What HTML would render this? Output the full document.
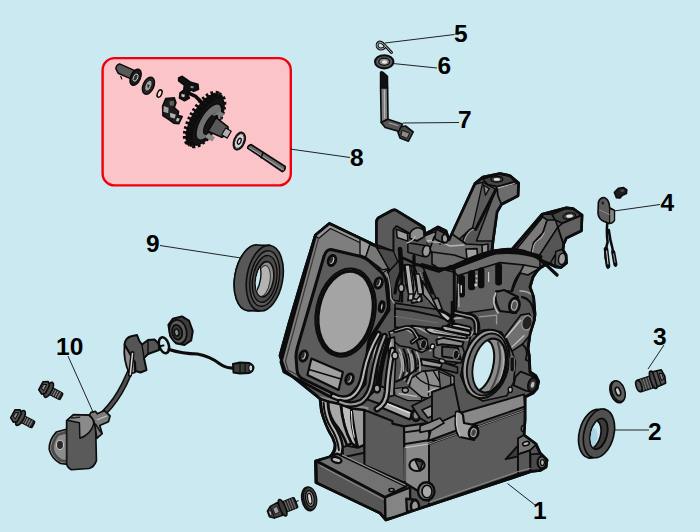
<!DOCTYPE html>
<html><head><meta charset="utf-8">
<style>
html,body{margin:0;padding:0;background:#cae9f1;}
body{width:700px;height:532px;overflow:hidden;}
svg{display:block;}
text{font-family:"Liberation Sans",sans-serif;font-weight:bold;font-size:24.5px;fill:#000;}
</style></head><body>
<svg width="700" height="532" viewBox="0 0 700 532">
<rect width="700" height="532" fill="#cae9f1"/>
<!-- pink box -->
<rect x="102.600" y="58.100" width="188.200" height="127.300" rx="12" ry="12" fill="#fbc4c9" stroke="#f0000c" stroke-width="2.400"/>
<!-- LEADERS -->
<g stroke="#222" stroke-width="1" fill="none">
<line x1="454.500" y1="34.500" x2="385" y2="43"/>
<line x1="437" y1="68" x2="393" y2="63.500"/>
<line x1="459" y1="122.500" x2="403" y2="123"/>
<line x1="290" y1="149" x2="350" y2="157.500"/>
<line x1="660" y1="204.500" x2="614" y2="211"/>
<line x1="160" y1="245.500" x2="241" y2="258"/>
<line x1="68" y1="356" x2="93" y2="412"/>
<line x1="664" y1="345" x2="648" y2="369"/>
<line x1="649" y1="430" x2="615" y2="430"/>
<line x1="535" y1="505" x2="507.500" y2="483.500"/>
</g>
<!-- LABELS -->
<g>
<text x="454" y="42">5</text>
<text x="437.500" y="74">6</text>
<text x="458" y="128">7</text>
<text x="350" y="166">8</text>
<text x="660.500" y="211">4</text>
<text x="146" y="251.500">9</text>
<text x="56" y="355">10</text>
<text x="653" y="345">3</text>
<text x="648" y="440">2</text>
<text x="533" y="518.500">1</text>
</g>
<g id="engine" stroke-linejoin="round" stroke-linecap="round">
<!-- silhouette -->
<path id="sil" d="M329.500,223.500 L371,243.500 L376.500,246 L376.500,222 Q376.500,218.500 380,217 L392,210.500 Q394.500,209.300 397,210.800 L424,227.500 L425,234 L431,231 L438,227 L446,231 L449,240 L475,183.600 L483,177 L500,173.600 L510,175.700 L518.600,183 L518,195.700 L501.500,204.300 L497,212 L493,241 L492,251 L512,249.300 L542,214.300 L566.400,207.900 L573,208.600 L582,215 L581.400,230.700 L566.400,238 L563.600,244.300 L563,250 L566,255 L566.500,263 L561,267.500 L556,267 L548,263 L540,268 L537,271 L533,277 L530,287 L533.600,297 L535,314 L534.300,320 L530,334 L528,348.600 L529.300,356 L530,372 L535.700,375.700 L538.600,381.400 L537,388.600 L533,393 L525,397 L525,420 L524,435 L536,444 L540,453 L547,460 L546,467 L540,470.500 L531,471.500 L515,477 L415,510 L386,520 L380,513 L316,482.500 L315.500,461 L329.300,457 Q335.500,452 335,444 Q333,437 330,433 Q325,424 321.500,411.500 L320,398.600 L285,370.500 L280,355.500 L289,323 L304.300,271.500 L315.500,235 Z" fill="#565656" stroke="#0c0c0c" stroke-width="2.7"/>
<!-- flange -->
<path d="M329,224 L371.500,243.500 L388.500,269 L389,310 L369,341 L365,384 L355,396 L339,401.500 L284,372 L281,362 L315.500,235.500 Z" fill="#7e7e7e" stroke="#0c0c0c" stroke-width="2.97"/>
<path d="M329,224 L371.500,243.500 L368,246.500 L330.500,228.500 L318.500,238.500 L315.500,235.500 Z" fill="#969696" stroke="#0c0c0c" stroke-width="1.215"/>
<path d="M318.500,238.500 L285.500,361 L288,370 L339,397.500" fill="none" stroke="#3a3a3a" stroke-width="1.215"/>
<!-- chamfer -->
<path d="M364.700,247.500 L371.800,243.600 L388.400,269 L382.500,273 Z" fill="#b4b4b4" stroke="#0c0c0c" stroke-width="1.35"/>
<!-- gasket face -->
<path d="M331,249.500 L361,256.500 Q366,258 369,261 L382,273 Q385.500,277 386,282 L388.400,306 Q388,311 385,315 L371,336 Q368.500,340 368,345 L364.700,375.800 Q363,380 360,384 L355,390 Q349,398.500 340,397 L302,378.500 Q297.500,376 297,370 L296,357 Q296,352 297.500,347 L323.500,258 Q325.500,249.500 331,249.500 Z" fill="#5c5c5c" stroke="#0c0c0c" stroke-width="2.97"/>
<!-- bore -->
<ellipse cx="345.600" cy="312.600" rx="29.500" ry="44.500" transform="rotate(11 345.600 312.600)" fill="#6a6a6a" stroke="#0c0c0c" stroke-width="2.16"/>
<ellipse cx="345.600" cy="312.600" rx="27" ry="42" transform="rotate(11 345.600 312.600)" fill="#a4a4a4" stroke="#0c0c0c" stroke-width="3.24"/>
<!-- bolt holes -->
<g fill="#c0c0c0" stroke="#0c0c0c" stroke-width="2.97">
<ellipse cx="332" cy="260.500" rx="3.500" ry="5.200" transform="rotate(20 332 260.500)"/>
<ellipse cx="378.600" cy="283" rx="3.500" ry="5.200" transform="rotate(20 378.600 283)"/>
<ellipse cx="303.600" cy="356" rx="3.500" ry="5.200" transform="rotate(20 303.600 356)"/>
<ellipse cx="349.500" cy="379" rx="3.500" ry="5.200" transform="rotate(20 349.500 379)"/>
<ellipse cx="381.700" cy="306.700" rx="2.200" ry="5" transform="rotate(10 381.700 306.700)"/>
</g>
<g fill="#2a2a2a" stroke="none">
<ellipse cx="331.300" cy="260.200" rx="1.500" ry="3.300" transform="rotate(20 331.300 260.200)"/>
<ellipse cx="377.900" cy="282.700" rx="1.500" ry="3.300" transform="rotate(20 377.900 282.700)"/>
<ellipse cx="302.900" cy="355.700" rx="1.500" ry="3.300" transform="rotate(20 302.900 355.700)"/>
<ellipse cx="348.800" cy="378.700" rx="1.500" ry="3.300" transform="rotate(20 348.800 378.700)"/>
</g>
<path d="M311.400,358.600 L342.900,372.100 L338.600,390 L307.400,375 Z" fill="#a0a0a0" stroke="#0c0c0c" stroke-width="2.16"/>
<path d="M309,369.500 L341,379 " fill="none" stroke="#0c0c0c" stroke-width="1.755"/>
</g>
<clipPath id="silclip"><path d="M329.500,223.500 L371,243.500 L376.500,246 L376.500,222 Q376.500,218.500 380,217 L392,210.500 Q394.500,209.300 397,210.800 L424,227.500 L425,234 L431,231 L438,227 L446,231 L449,240 L475,183.600 L483,177 L500,173.600 L510,175.700 L518.600,183 L518,195.700 L501.500,204.300 L497,212 L493,241 L492,251 L512,249.300 L542,214.300 L566.400,207.900 L573,208.600 L582,215 L581.400,230.700 L566.400,238 L563.600,244.300 L563,250 L566,255 L566.500,263 L561,267.500 L556,267 L548,263 L540,268 L537,271 L533,277 L530,287 L533.600,297 L535,314 L534.300,320 L530,334 L528,348.600 L529.300,356 L530,372 L535.700,375.700 L538.600,381.400 L537,388.600 L533,393 L525,397 L525,420 L524,435 L536,444 L540,453 L547,460 L546,467 L540,470.500 L531,471.500 L515,477 L415,510 L386,520 L380,513 L316,482.500 L315.500,461 L329.300,457 Q335.500,452 335,444 Q333,437 330,433 Q325,424 321.500,411.500 L320,398.600 L285,370.500 L280,355.500 L289,323 L304.300,271.500 L315.500,235 Z"/></clipPath>
<g clip-path="url(#silclip)">
<!-- tile T1: tab/hook, origin (360,200) scale 1/7 -->
<g transform="translate(360 200) scale(0.142857)" stroke="#0c0c0c" stroke-width="13.5" stroke-linejoin="round" stroke-linecap="round">
<path d="M112,312 L112,150 Q112,122 140,110 L225,72 Q240,64 258,74 L425,168 Q450,190 448,255 L400,285 L350,268 L350,235 L255,182 L234,208 L234,358 Z" fill="#5a5a5a"/>
<path d="M350,235 Q360,205 400,195 Q425,190 447,215 L448,258 L398,285 L350,268 Z" fill="#8c8c8c" stroke-width="10.8"/>
<path d="M255,205 L332,235 L335,288 L260,262 Z" fill="#9c9c9c" stroke-width="10.8"/>
<path d="M335,300 L455,318 L450,398 L335,365 Z" fill="#555" stroke-width="10.8"/>
<ellipse cx="465" cy="357" rx="27" ry="40" transform="rotate(12 465 357)" fill="#9a9a9a" stroke-width="12.15"/>
<path d="M330,300 Q370,290 385,255" fill="none" stroke="#b5b5b5" stroke-width="9"/>
<path d="M455,250 L520,225 L560,215 L600,235 L620,270 L600,300 L520,290 L470,300" fill="#8a8a8a" stroke-width="10.8"/>
<ellipse cx="592" cy="268" rx="22" ry="30" fill="#8a8a8a" stroke-width="10.8"/>
<path d="M470,285 Q510,275 540,295" fill="none" stroke="#c0c0c0" stroke-width="8"/>
<path d="M0,260 L70,310 L40,400 L0,385 Z" fill="#9a9a9a" stroke-width="9.45"/>
<path d="M70,310 L115,330 L200,480 L160,490 L40,400 Z" fill="#777" stroke-width="9.45"/>
<path d="M115,330 L234,358 L260,420 L270,532 L200,480 Z" fill="#4a4a4a" stroke-width="9.45"/>
</g>
<!-- arm1 origin (440,165) scale 1/7 -->
<g transform="translate(440 165) scale(0.142857)" stroke="#0c0c0c" stroke-width="13.5" stroke-linejoin="round" stroke-linecap="round">
<path d="M60,532 L245,135 L300,120 L300,190 L230,440 L190,470 L120,532 Z" fill="#747474" stroke-width="10.8"/>
<path d="M400,158 L430,275 L400,330 L370,532 L255,532 L380,200 Z" fill="#666" stroke-width="10.8"/>
<path d="M300,120 L390,170 L250,450 L228,440 Z" fill="#5a5a5a" stroke-width="9.45"/>
<path d="M300,98 L420,63 L490,78 L525,115 L400,152 L335,138 Z" fill="#454545" stroke-width="12.15"/>
<ellipse cx="398" cy="100" rx="42" ry="20" fill="#3a3a3a" stroke-width="8.1"/>
<ellipse cx="398" cy="101" rx="22" ry="10" fill="#e4e4e4" stroke="none"/>
<path d="M400,155 L545,125 L545,215 L430,275 L405,215 Z" fill="#6c6c6c" stroke-width="12.15"/>
<path d="M405,160 L520,130" stroke="#c8c8c8" stroke-width="7" fill="none"/>
<path d="M305,140 L345,165 L318,212 Z" fill="#8a8a8a" stroke-width="9.45"/>
<path d="M390,175 L250,450" stroke-width="21.6" fill="none"/>
<path d="M230,440 Q200,450 170,500 L160,532" stroke-width="12.15" fill="none"/>
<path d="M170,532 Q190,470 232,450" stroke="#9a9a9a" stroke-width="8" fill="none"/>
</g>
<!-- arm2 origin (495,200) scale 1/7 -->
<g transform="translate(495 200) scale(0.142857)" stroke="#0c0c0c" stroke-width="13.5" stroke-linejoin="round" stroke-linecap="round">
<path d="M150,345 L335,118 L365,140 L335,230 L270,300 L250,385 Z" fill="#7a7a7a" stroke-width="10.8"/>
<path d="M365,140 L420,130 L440,190 L300,405 L250,385 L270,300 L335,230 Z" fill="#6a6a6a" stroke-width="10.8"/>
<path d="M440,190 L480,310 L475,345 L420,385 L385,445 L300,405 Z" fill="#555" stroke-width="10.8"/>
<path d="M330,100 L400,100 L420,140 L365,140 L335,118 Z" fill="#4a4a4a" stroke-width="10.8"/>
<path d="M400,100 L500,58 L548,62 L607,105 L470,162 L420,140 Z" fill="#454545" stroke-width="12.15"/>
<ellipse cx="520" cy="112" rx="45" ry="22" transform="rotate(-8 520 112)" fill="#3a3a3a" stroke-width="8.1"/>
<ellipse cx="522" cy="113" rx="24" ry="11" transform="rotate(-8 522 113)" fill="#e4e4e4" stroke="none"/>
<path d="M470,165 L608,108 L605,215 L500,265 L480,310 L440,190 Z" fill="#606060" stroke-width="12.15"/>
<path d="M120,345 L330,100" stroke-width="24.3" fill="none"/>
<path d="M345,230 Q330,270 290,290 Q265,310 262,380" stroke="#c0c0c0" stroke-width="7" fill="none"/>
<path d="M425,360 L470,345 Q500,380 498,440 L460,472 L420,455 Z" fill="#5a5a5a" stroke-width="10.8"/>
<ellipse cx="470" cy="412" rx="25" ry="40" transform="rotate(10 470 412)" fill="#9a9a9a" stroke-width="10.8"/>
</g>
<!-- mid region origin (400,225) scale 1/5 -->
<g transform="translate(400 225) scale(0.2)" stroke="#0c0c0c" stroke-width="10.8" stroke-linejoin="round" stroke-linecap="round">
<!-- base area under arm1 -->
<path d="M170,60 L240,30 L330,95 L420,100 L440,150 L300,200 L265,215 L180,180 L150,120 Z" fill="#6c6c6c" stroke-width="8.1"/>
<path d="M160,135 L270,150 L330,170 L300,200 L265,215 L190,215 L160,195 Z" fill="#6a6a6a" stroke-width="8.1"/>
<path d="M330,120 L385,118 L388,165 L335,170 Z" fill="#a0a0a0" stroke-width="8.1"/>
<path d="M410,100 L440,95 L440,150 L412,150 Z" fill="#909090" stroke-width="8.1"/>
<path d="M175,55 L215,45 L240,75 L200,95 Z" fill="#8c8c8c" stroke-width="8.1"/>
<path d="M140,85 Q200,80 250,105 L320,100" fill="none" stroke="#b8b8b8" stroke-width="7"/>
<!-- plate -->
<path d="M262,222 L480,140 L600,138 L700,162 L700,222 L620,204 L500,192 L290,256 Z" fill="#6c6c6c" stroke-width="8.1"/>
<path d="M255,215 Q400,150 480,135 Q600,125 700,160" fill="none" stroke-width="24.3"/>
<path d="M290,252 L500,188 L620,200 L600,240 L560,330 L480,330 L470,420 L330,440 L280,450 Z" fill="#626262" stroke-width="8.1"/>
<!-- slots -->
<g fill="#0c0c0c" stroke="none">
<rect x="293" y="250" width="32" height="112" rx="14"/>
<rect x="340" y="226" width="36" height="100" rx="15"/>
<rect x="390" y="212" width="32" height="104" rx="14"/>
<rect x="476" y="190" width="34" height="112" rx="15"/>
</g>
<g fill="#c8c8c8" stroke="none">
<rect x="378" y="250" width="9" height="12" rx="4"/>
<rect x="378" y="272" width="9" height="12" rx="4"/>
<rect x="372" y="292" width="14" height="16" rx="5"/>
<rect x="303" y="300" width="7" height="40" rx="3"/>
<rect x="440" y="235" width="6" height="50" rx="3"/>
</g>
<!-- big dark polygon left -->
<path d="M120,250 L268,218 L270,450 L150,380 Z" fill="#515151" stroke-width="9.45"/>
<path d="M270,215 L270,450" stroke-width="13.5" fill="none"/>
<!-- lever shapes at left -->
<path d="M20,200 Q60,190 80,230 L110,380 L60,390 L30,300 Z" fill="#b0b0b0" stroke-width="9.45"/>
<path d="M55,230 L95,380" stroke="#d0d0d0" stroke-width="7" fill="none"/>
<path d="M100,240 L140,380" stroke="#a0a0a0" stroke-width="7" fill="none"/>
<!-- boss right -->
<path d="M700,215 L640,250 L600,240 L620,200 Z" fill="#808080" stroke-width="8.1"/>
<path d="M600,240 Q570,280 560,330" fill="none" stroke-width="13.5"/>
<path d="M480,335 Q470,380 500,430 L580,440 L590,360 L520,325 Z" fill="#5c5c5c" stroke-width="10.8"/>
<path d="M478,340 Q455,390 490,440" fill="none" stroke="#b8b8b8" stroke-width="9"/>
<ellipse cx="572" cy="402" rx="26" ry="38" transform="rotate(10 572 402)" fill="#2a2a2a" stroke-width="10.8"/>
<ellipse cx="572" cy="402" rx="14" ry="24" transform="rotate(10 572 402)" fill="#555" stroke="#bbb" stroke-width="5"/>
<path d="M600,330 Q680,330 700,420" fill="none" stroke="#aaa" stroke-width="8"/>
<path d="M610,360 Q660,370 670,440" fill="none" stroke-width="10.8"/>
<ellipse cx="640" cy="480" rx="22" ry="30" fill="#333" stroke="#999" stroke-width="6"/>
</g>
<!-- rocker region origin (365,250) scale 1/5.8333 -->
<g transform="translate(365 250) scale(0.171429)" stroke="#0c0c0c" stroke-width="10.8" stroke-linejoin="round" stroke-linecap="round">
<path d="M330,80 L520,130 L520,390 L440,345 Z" fill="#575757" stroke-width="9.45"/>
<path d="M175,310 L440,350 L520,400 L520,445 L380,432 L175,372 Z" fill="#525252" stroke-width="9.45"/>
<path d="M135,130 L200,60 L215,180 L200,300 L160,290 Z" fill="#4a4a4a" stroke-width="9.45"/>
<path d="M232,95 L268,90 L285,200 L280,290 L250,295 L262,200 Z" fill="#b4b4b4" stroke-width="9.45"/>
<path d="M290,150 L325,160 L335,250 L300,290 L282,280 L300,230 Z" fill="#9a9a9a" stroke-width="9.45"/>
<path d="M335,180 L420,330 L470,370 L490,400 L470,410 L420,350 L340,260 Z" fill="#8a8a8a" stroke-width="9.45"/>
<path d="M215,60 L215,300" stroke-width="16.2" fill="none"/>
<ellipse cx="212" cy="222" rx="16" ry="22" fill="#aaa" stroke-width="9.45"/>
<path d="M130,140 Q150,200 150,280 L170,310" fill="none" stroke="#999" stroke-width="8"/>
<path d="M330,95 L430,125 L500,95" fill="none" stroke-width="16.2"/>
<path d="M520,120 L520,400" stroke-width="16.2" fill="none"/>
<path d="M380,450 L600,470 M400,480 L610,500 M430,510 L600,525" stroke="#b0b0b0" stroke-width="10" fill="none"/>
<path d="M520,400 L610,390 Q650,400 650,460" fill="none" stroke="#aaa" stroke-width="9"/>
<path d="M520,380 L620,372 Q668,385 668,460" fill="none" stroke-width="10.8"/>
<path d="M230,460 Q280,430 340,470 Q400,500 480,480" fill="none" stroke="#b0b0b0" stroke-width="9"/>
<path d="M180,400 L380,445" stroke="#888" stroke-width="7" fill="none"/>
<path d="M545,200 L548,330" stroke="#aaa" stroke-width="8" fill="none"/>
</g>
<!-- bearing region origin (440,310) scale 1/5.8333 -->
<g transform="translate(440 310) scale(0.171429)" stroke="#0c0c0c" stroke-width="10.8" stroke-linejoin="round" stroke-linecap="round">
<!-- flange behind bore -->
<path d="M180,150 Q260,90 360,130 L420,240 L440,300 L430,420 L390,500 L250,531 L160,480 L120,380 Z" fill="#606060" stroke-width="9.45"/>
<ellipse cx="268" cy="315" rx="132" ry="203" transform="rotate(14 268 315)" fill="#9a9a9a" stroke-width="12.15"/>
<ellipse cx="276" cy="318" rx="114" ry="184" transform="rotate(14 276 318)" fill="#6e6e6e" stroke-width="10.8"/>
<ellipse cx="288" cy="324" rx="93" ry="160" transform="rotate(13 288 324)" fill="#8a8a8a" stroke-width="13.5"/>
<!-- bg crescent through bore -->
<clipPath id="boreclip"><ellipse cx="288" cy="324" rx="89" ry="156" transform="rotate(13 288 324)"/></clipPath>
<g clip-path="url(#boreclip)">
<ellipse cx="240" cy="322" rx="70" ry="150" transform="rotate(13 240 322)" fill="#cae9f1" stroke-width="12.15"/>
<path d="M338,190 Q378,320 292,476" fill="none" stroke="#444" stroke-width="12.15"/>
<path d="M360,215 Q394,330 322,470" fill="none" stroke="#b0b0b0" stroke-width="7"/>
</g>
<!-- pin boss -->
<path d="M440,390 L470,360 L560,395 L545,480 L500,470 L430,440 Z" fill="#5a5a5a" stroke-width="10.8"/>
<ellipse cx="540" cy="436" rx="26" ry="42" transform="rotate(14 540 436)" fill="#2c2c2c" stroke-width="10.8"/>
<ellipse cx="540" cy="436" rx="10" ry="18" transform="rotate(14 540 436)" fill="#bbb" stroke="none"/>
<!-- slot right of bore -->
<rect x="408" y="272" width="26" height="90" rx="12" fill="#111" stroke="#888" stroke-width="5"/>
<ellipse cx="410" cy="465" rx="12" ry="16" fill="#bbb" stroke-width="8.1"/>
<!-- upper right boss -->
<path d="M380,150 L470,30 L520,20 L545,70 L530,140 L480,200 L420,240 Z" fill="#707070" stroke-width="9.45"/>
<ellipse cx="508" cy="75" rx="30" ry="42" transform="rotate(14 508 75)" fill="#222" stroke="#999" stroke-width="7"/>
<path d="M385,160 L470,60" stroke="#c4c4c4" stroke-width="8" fill="none"/>
<path d="M420,215 L490,150" stroke="#c4c4c4" stroke-width="7" fill="none"/>
<path d="M480,200 Q520,230 500,290 L520,300" fill="none" stroke-width="10.8"/>
<!-- left boss -->
<path d="M0,200 L80,215 L120,240 L120,300 L80,320 L0,300 Z" fill="#5a5a5a" stroke-width="9.45"/>
<ellipse cx="92" cy="268" rx="16" ry="28" transform="rotate(10 92 268)" fill="#1c1c1c" stroke="#aaa" stroke-width="6"/>
<!-- upper-left ribs -->
<path d="M0,60 L180,40 Q215,50 215,90 L180,150" fill="none" stroke="#aaa" stroke-width="9"/>
<path d="M0,100 L150,95" stroke="#bbb" stroke-width="8" fill="none"/>
<path d="M0,130 L150,125" stroke-width="10.8" fill="none"/>
<path d="M230,40 L330,30 L330,80" fill="none" stroke="#999" stroke-width="8"/>
</g>
<!-- center region origin (365,320) scale 1/5.8333 -->
<g transform="translate(365 320) scale(0.171429)" stroke="#0c0c0c" stroke-width="10.8" stroke-linejoin="round" stroke-linecap="round">
<!-- light central area -->
<path d="M330,300 L440,290 L520,330 L520,440 L430,470 L330,450 L250,420 L270,340 Z" fill="#8c8c8c" stroke-width="9.45"/>
<path d="M350,300 Q380,360 370,440 M300,330 Q340,380 440,390 M400,300 L470,420" fill="none" stroke-width="8.1"/>
<path d="M430,300 L500,330 L500,430 L440,400 Z" fill="#6a6a6a" stroke-width="8.1"/>
<!-- top dark shape with boss -->
<path d="M140,70 L230,40 L300,80 L360,110 L370,170 L330,190 L260,160 L200,150 L150,110 Z" fill="#5a5a5a" stroke-width="9.45"/>
<path d="M150,75 L235,50 L290,85" fill="none" stroke="#aaa" stroke-width="8"/>
<ellipse cx="336" cy="146" rx="20" ry="30" transform="rotate(12 336 146)" fill="#111" stroke="#bbb" stroke-width="6"/>
<!-- right boss -->
<path d="M400,170 L440,110 L560,130 L580,190 L560,250 L470,240 L400,215 Z" fill="#6a6a6a" stroke-width="9.45"/>
<ellipse cx="526" cy="200" rx="18" ry="28" transform="rotate(12 526 200)" fill="#111" stroke="#bbb" stroke-width="6"/>
<path d="M380,180 L410,150 L440,110" fill="none" stroke="#ccc" stroke-width="8"/>
<!-- horizontal bar -->
<path d="M310,225 L400,232 L540,275 L540,310 L400,275 L310,258 Z" fill="#505050" stroke-width="9.45"/>
<!-- left strips -->
<path d="M132,110 L172,100 L178,250 L168,440 L128,450 L140,250 Z" fill="#8a8a8a" stroke-width="9.45"/>
<path d="M150,120 L156,250 L148,430" fill="none" stroke="#ccc" stroke-width="6"/>
<ellipse cx="172" cy="205" rx="14" ry="18" fill="#aaa" stroke-width="8.1"/>
<path d="M70,110 Q40,250 30,470" fill="none" stroke="#b0b0b0" stroke-width="10"/>
<path d="M100,110 Q70,250 60,470" fill="none" stroke-width="10.8"/>
<path d="M118,120 Q92,260 84,470" fill="none" stroke="#9a9a9a" stroke-width="8"/>
<!-- curved fins center-left -->
<path d="M200,200 Q230,260 200,340 M235,195 Q270,260 230,350 M270,200 Q300,270 250,370" fill="none" stroke="#a8a8a8" stroke-width="9"/>
<path d="M218,198 Q250,260 215,345 M252,198 Q285,265 240,360" fill="none" stroke-width="9.45"/>
<path d="M180,360 Q260,330 330,260" fill="none" stroke-width="12.15"/>
<!-- lower -->
<path d="M170,400 L260,390 L330,450 L330,470 L250,470 L175,440 Z" fill="#777" stroke-width="8.1"/>
<path d="M200,430 L300,445" fill="none" stroke="#c0c0c0" stroke-width="7"/>
<ellipse cx="235" cy="410" rx="18" ry="14" fill="#9a9a9a" stroke-width="8.1"/>
<!-- top right fins -->
<path d="M380,40 L600,70 M370,70 L590,100" fill="none" stroke="#b0b0b0" stroke-width="10"/>
<path d="M375,55 L595,85" fill="none" stroke-width="9.45"/>
</g>
<!-- fins region origin (395,295) scale 1/7 -->
<g transform="translate(395 295) scale(0.142857)" stroke="#0c0c0c" stroke-width="15.188" stroke-linejoin="round" stroke-linecap="round">
<!-- dark band upper-left -->
<path d="M0,95 L120,110 L300,150 L400,190 L330,235 L220,225 L120,215 L60,230 L0,225 Z" fill="#585858" stroke-width="13.5"/>
<path d="M0,150 L300,195" fill="none" stroke="#777" stroke-width="6"/>
<!-- fins -->
<path d="M402,195 L520,222 Q540,232 528,248 L400,222 Z" fill="#b4b4b4" stroke-width="13.5"/>
<path d="M330,228 Q330,215 350,216 L520,255 Q535,268 520,282 L350,250 Q335,245 330,228 Z" fill="#a8a8a8" stroke-width="13.5"/>
<path d="M215,240 Q225,222 260,230 L500,285 Q512,300 495,305 L270,272 Q225,262 215,240 Z" fill="#b8b8b8" stroke-width="13.5"/>
<path d="M270,250 L470,290" fill="none" stroke="#666" stroke-width="6"/>
<!-- bent pipe -->
<path d="M420,125 L530,150 Q568,165 570,210 L570,262" fill="none" stroke-width="40.5"/>
<path d="M420,125 L530,150 Q568,165 570,210 L570,262" fill="none" stroke="#9c9c9c" stroke-width="10"/>
<path d="M400,50 L400,190" fill="none" stroke-width="20.25"/>
<!-- lever end -->
<path d="M300,108 L352,128 L392,160 L372,188 L330,152 Z" fill="#c0c0c0" stroke-width="13.5"/>
<path d="M265,30 L300,108 L330,100 L300,20 Z" fill="#8a8a8a" stroke-width="11.812"/>
<!-- left brackets -->
<path d="M0,250 L60,232 Q100,215 130,250 L160,300 L120,330" fill="none" stroke-width="33.75"/>
<path d="M0,250 L60,232 Q100,215 130,250 L160,300 L120,330" fill="none" stroke="#a0a0a0" stroke-width="8"/>
<!-- bosses -->
<path d="M150,320 Q170,300 215,310 L225,370 L170,380 Z" fill="#555" stroke-width="13.5"/>
<ellipse cx="200" cy="345" rx="20" ry="32" transform="rotate(10 200 345)" fill="#111" stroke="#999" stroke-width="6"/>
<path d="M290,312 L340,300 L480,330 L470,360 L330,345 L295,352 Z" fill="#8a8a8a" stroke-width="13.5"/>
<path d="M330,360 L440,370 L460,450 L330,430 Z" fill="#5a5a5a" stroke-width="13.5"/>
<ellipse cx="428" cy="418" rx="20" ry="32" transform="rotate(10 428 418)" fill="#111" stroke="#999" stroke-width="6"/>
<path d="M250,350 Q260,335 280,350 L270,380 L245,375 Z" fill="#e0e0e0" stroke-width="10.125"/>
<!-- lower-left curved light parts -->
<path d="M30,380 Q60,430 60,532 M90,380 Q120,440 115,532 M150,400 Q180,450 175,532" fill="none" stroke="#a8a8a8" stroke-width="12"/>
<path d="M60,380 Q92,440 88,532 M120,390 Q150,445 145,532" fill="none" stroke-width="15.188"/>
<path d="M180,450 L330,480 L320,510 L190,490 Z" fill="#9a9a9a" stroke-width="11.812"/>
<ellipse cx="330" cy="462" rx="22" ry="14" transform="rotate(20 330 462)" fill="#aaa" stroke-width="10.125"/>
</g>
<!-- lower-left fins: origin (280,390) scale 1/7 -->
<g transform="translate(280 390) scale(0.142857)" stroke="#0c0c0c" stroke-width="18.225" stroke-linejoin="round" stroke-linecap="round">
<path d="M270,40 L620,120 L600,420 L350,480 L380,380 L300,230 Z" fill="#8c8c8c" stroke="none"/>
<path d="M500,130 L592,140 L592,385 L545,405 Q520,300 500,130 Z" fill="#9c9c9c"/>
<path d="M425,100 L500,130 Q490,250 545,405 L500,372 Q440,260 425,100 Z" fill="#bcbcbc"/>
<path d="M500,150 Q500,250 520,330" fill="none" stroke="#f0f0f0" stroke-width="7"/>
<path d="M335,80 L425,100 Q440,260 500,372 L470,390 Q440,300 380,230 Q335,160 335,80 Z" fill="#a8a8a8"/>
<path d="M282,62 L335,80 Q335,160 372,235 Q430,320 440,400 L432,452 L350,472 Q392,440 386,385 Q370,330 340,285 Q290,200 282,62 Z" fill="#b6b6b6"/>
<path d="M305,90 Q310,190 355,262 Q405,340 412,420" fill="none" stroke-width="14.175"/>
<path d="M440,400 L470,390 L545,405 L592,385 L592,440 L440,470 Z" fill="#5a5a5a" stroke-width="14.175"/>
</g>
<!-- lower-left origin (300,380) scale 1/5 -->
<g transform="translate(300 380) scale(0.2)" stroke="#0c0c0c" stroke-width="10.8" stroke-linejoin="round" stroke-linecap="round">
<!-- side panel -->
<path d="M322,150 L462,205 L462,218 L520,232 L525,515 L322,425 Z" fill="#5a5a5a" stroke-width="10.8"/>
<!-- corner column -->
<path d="M520,232 L640,215 L650,300 L700,310 L700,560 L640,585 L525,515 Z" fill="#888888" stroke-width="10.8"/>
<path d="M522,262 L645,245" stroke-width="9.45" fill="none"/>
<path d="M525,320 L650,300" stroke-width="9.45" fill="none"/>
<path d="M525,338 L645,320" stroke="#c0c0c0" stroke-width="6" fill="none"/>
<path d="M524,345 L524,500" stroke="#555" stroke-width="13.5" fill="none"/>
<ellipse cx="585" cy="425" rx="38" ry="30" fill="#a8a8a8" stroke-width="10.8"/>
<path d="M575,400 L615,410 L600,455 Z" fill="#444" stroke-width="8.1"/>
<!-- bolt top right -->
<path d="M412,100 L565,160 L548,198 L400,135 Z" fill="#a8a8a8" stroke-width="10.8"/>
<path d="M420,112 L550,166" stroke="#e0e0e0" stroke-width="7" fill="none"/>
<ellipse cx="580" cy="176" rx="24" ry="30" fill="#222" stroke-width="10.8"/>
<ellipse cx="580" cy="176" rx="11" ry="16" fill="#888" stroke="none"/>
<path d="M330,95 L400,30 L430,40 L440,90 L400,120 Z" fill="#707070" stroke-width="9.45"/>
<ellipse cx="385" cy="45" rx="16" ry="20" fill="#999" stroke-width="8.1"/>
<path d="M560,130 L700,60 L700,230 L640,215 L600,190 Z" fill="#5a5a5a" stroke-width="9.45"/>
<path d="M640,60 Q680,40 700,45" fill="none" stroke="#bbb" stroke-width="8"/>
<path d="M610,150 L700,110 L700,160 L640,190 Z" fill="#9a9a9a" stroke-width="8.1"/>
</g>
<!-- gasket bands wrapping flange lower right (real coords) -->
<g fill="none" stroke-linecap="round" stroke-linejoin="round">
<path d="M378.500,334 Q368,352 364,372 Q361,391 351,397 Q343,401 333,396" stroke="#0c0c0c" stroke-width="6.48"/>
<path d="M378.500,334 Q368,352 364,372 Q361,391 351,397 Q343,401 333,396" stroke="#b8b8b8" stroke-width="2"/>
<path d="M384.500,336 Q376,356 373,376 Q371,395 361,402 Q351,407 340,402" stroke="#0c0c0c" stroke-width="6.48"/>
<path d="M384.500,336 Q376,356 373,376 Q371,395 361,402 Q351,407 340,402" stroke="#9a9a9a" stroke-width="2"/>
<path d="M388.500,340 Q381,362 379,386" stroke="#0c0c0c" stroke-width="4.725"/>
<path d="M392.500,350 Q388,372 387,392 Q386,404 377,409" stroke="#0c0c0c" stroke-width="6.75"/>
<path d="M392.500,350 Q388,372 387,392 Q386,404 377,409" stroke="#b0b0b0" stroke-width="2.400"/>
</g>
<ellipse cx="395" cy="355.500" rx="3" ry="3.600" fill="#b0b0b0" stroke="#0c0c0c" stroke-width="1.62"/>
<ellipse cx="377" cy="388.500" rx="2.800" ry="3.600" fill="#a0a0a0" stroke="#0c0c0c" stroke-width="1.62"/>
<!-- heavy ink strokes (real coords) -->
<g fill="none" stroke="#0c0c0c" stroke-linecap="round" stroke-linejoin="round">
<path d="M400,249 L401.500,270" stroke-width="4.59"/>
<path d="M401.500,270 L397,282 L395,293" stroke-width="3.24"/>
<path d="M403,258 L414,263" stroke-width="2.97"/>
<path d="M414,256 L414,273 L420,293" stroke-width="3.24"/>
<path d="M414,264 L440,270" stroke-width="2.97"/>
<path d="M424,273 L432,293" stroke-width="2.97"/>
</g>
<path d="M405,265 L409.500,265 L413.500,294 L408.500,294 Z" fill="#b4b4b4" stroke="#0c0c0c" stroke-width="1.35"/>
<path d="M415.500,274 L419.500,274 L423,294 L418,294 Z" fill="#a8a8a8" stroke="#0c0c0c" stroke-width="1.35"/>
<path d="M436,229 L444,233 L443.500,243 L435,239 Z" fill="#5a5a5a" stroke="#0c0c0c" stroke-width="1.62"/>
<ellipse cx="445" cy="238.500" rx="3" ry="4.200" fill="#a0a0a0" stroke="#0c0c0c" stroke-width="1.89"/>
<!-- lower-right origin (420,380) scale 1/5 -->
<g transform="translate(420 380) scale(0.2)" stroke="#0c0c0c" stroke-width="10.8" stroke-linejoin="round" stroke-linecap="round">
<!-- big panel -->
<path d="M45,320 L525,150 L522,285 L490,330 L490,470 L45,625 Z" fill="#5b5b5b" stroke-width="9.45"/>
<!-- band -->
<path d="M60,230 L200,165 L520,72 L526,132 L270,220 L40,305 Z" fill="#888888" stroke-width="9.45"/>
<path d="M40,322 L525,150" stroke="#8a8a8a" stroke-width="5" fill="none"/>
<!-- upper area -->
<path d="M60,60 L170,20 L200,165 L60,230 Z" fill="#5a5a5a" stroke-width="9.45"/>
<path d="M0,230 L40,215 L100,190 L120,215 L60,250 L0,262 Z" fill="#8a8a8a" stroke-width="8.1"/>
<!-- pin boss -->
<path d="M180,160 Q200,150 215,175 L220,215 L285,228 L270,300 L200,285 Q170,260 180,160 Z" fill="#a0a0a0" stroke-width="10.8"/>
<path d="M185,165 Q175,230 200,280" fill="none" stroke="#c0c0c0" stroke-width="7"/>
<ellipse cx="268" cy="263" rx="24" ry="32" transform="rotate(12 268 263)" fill="#222" stroke-width="10.8"/>
<ellipse cx="268" cy="263" rx="13" ry="20" transform="rotate(12 268 263)" fill="#444" stroke="#aaa" stroke-width="5"/>
<!-- foot -->
<path d="M490,292 L520,275 L582,322 L550,352 L490,372 Z" fill="#747474" stroke-width="9.45"/>
<ellipse cx="530" cy="318" rx="17" ry="10" transform="rotate(-15 530 318)" fill="#bbb" stroke-width="8.1"/>
<path d="M490,372 L550,352 L552,455 L490,470 Z" fill="#585858" stroke-width="9.45"/>
<path d="M428,396 L490,328 L490,382 Z" fill="#3c3c3c" stroke-width="9.45"/>
<path d="M552,372 L600,368 L612,380 L612,440 L600,452 L552,455 Z" fill="#4a4a4a" stroke-width="9.45"/>
<ellipse cx="610" cy="412" rx="22" ry="30" fill="#777" stroke-width="10.8"/>
<ellipse cx="612" cy="413" rx="10" ry="15" fill="#bbb" stroke-width="6.75"/>
<ellipse cx="518" cy="243" rx="12" ry="16" fill="#6a6a6a" stroke-width="6.75"/>
<!-- bottom lip -->
<path d="M45,612 L490,458 L552,442" fill="none" stroke="#8a8a8a" stroke-width="5"/>
</g>
<!-- base origin (270,400) scale 1/4 -->
<g transform="translate(270 400) scale(0.25)" stroke="#0c0c0c" stroke-width="9.45" stroke-linejoin="round" stroke-linecap="round">
<path d="M185,242 L270,215 L545,345 L460,388 Z" fill="#727272"/>
<path d="M185,245 L460,390 L462,478 L187,332 Z" fill="#565656"/>
<path d="M200,262 L455,398" stroke="#888" stroke-width="5" fill="none"/>
<path d="M460,390 L560,350 L562,455 L462,478 Z" fill="#848484"/>
<path d="M440,455 L470,500 L560,472 L562,455 L462,478 Z" fill="#4a4a4a"/>
<ellipse cx="266" cy="240" rx="20" ry="11" transform="rotate(15 266 240)" fill="#bbb"/>
<ellipse cx="486" cy="360" rx="10" ry="6" fill="#aaa" stroke-width="6.75"/>
<path d="M290,220 L540,340" stroke="#999" stroke-width="5" fill="none"/>
<ellipse cx="625" cy="365" rx="33" ry="36" fill="#7a7a7a"/>
<ellipse cx="628" cy="366" rx="20" ry="25" fill="#a8a8a8" stroke-width="6.75"/>
<path d="M545,395 L585,400 L590,450 L548,445 Z" fill="#666"/>
<ellipse cx="580" cy="425" rx="16" ry="24" fill="#999"/>
</g>
</g>
<path d="M329.500,223.500 L371,243.500 L376.500,246 L376.500,222 Q376.500,218.500 380,217 L392,210.500 Q394.500,209.300 397,210.800 L424,227.500 L425,234 L431,231 L438,227 L446,231 L449,240 L475,183.600 L483,177 L500,173.600 L510,175.700 L518.600,183 L518,195.700 L501.500,204.300 L497,212 L493,241 L492,251 L512,249.300 L542,214.300 L566.400,207.900 L573,208.600 L582,215 L581.400,230.700 L566.400,238 L563.600,244.300 L563,250 L566,255 L566.500,263 L561,267.500 L556,267 L548,263 L540,268 L537,271 L533,277 L530,287 L533.600,297 L535,314 L534.300,320 L530,334 L528,348.600 L529.300,356 L530,372 L535.700,375.700 L538.600,381.400 L537,388.600 L533,393 L525,397 L525,420 L524,435 L536,444 L540,453 L547,460 L546,467 L540,470.500 L531,471.500 L515,477 L415,510 L386,520 L380,513 L316,482.500 L315.500,461 L329.300,457 Q335.500,452 335,444 Q333,437 330,433 Q325,424 321.500,411.500 L320,398.600 L285,370.500 L280,355.500 L289,323 L304.300,271.500 L315.500,235 Z" fill="none" stroke="#0c0c0c" stroke-width="2.7" stroke-linejoin="round"/>
<!-- black wire over plate -->
<path d="M452,268 Q478,253 500,250 Q522,247 538,258 Q548,266 557,275" fill="none" stroke="#0c0c0c" stroke-width="3.22" stroke-linecap="round"/>
<!-- bearing 9: origin (220,230) scale 1/5.85 -->
<g transform="translate(220 230) scale(0.17094)" stroke="#0c0c0c" stroke-width="9.2" stroke-linejoin="round">
<g transform="rotate(9.700 262 282)">
<path d="M262,88 A105,194 0 0 0 262,476 L192,486 A105,194 0 0 1 192,98 Z" fill="#585858"/>
<ellipse cx="192" cy="292" rx="105" ry="194" fill="#585858"/>
<rect x="190" y="95" width="75" height="384" fill="#585858" stroke="none"/>
<path d="M192,98 L262,88 M192,486 L262,476" fill="none"/>
<ellipse cx="262" cy="282" rx="105" ry="194" fill="#4c4c4c"/>
<ellipse cx="262" cy="284" rx="84" ry="164" fill="#5a5a5a" stroke-width="8.05"/>
<ellipse cx="262" cy="286" rx="70" ry="138" fill="#4a4a4a" stroke-width="8.05"/>
<ellipse cx="262" cy="288" rx="52" ry="104" fill="#8e8e8e" stroke-width="9.2"/>
<clipPath id="b9c"><ellipse cx="262" cy="288" rx="49" ry="101"/></clipPath>
<g clip-path="url(#b9c)"><ellipse cx="208" cy="296" rx="30" ry="86" fill="#cae9f1" stroke-width="8.05"/>
<ellipse cx="255" cy="300" rx="40" ry="92" fill="#b4b4b4" stroke="#333" stroke-width="5.75"/><ellipse cx="208" cy="296" rx="30" ry="86" fill="#cae9f1" stroke-width="8.05"/></g>
</g>
</g>
<!-- seal 2, washer, bolt 3: origin (570,360) scale 1/4.836 -->
<g transform="translate(570 360) scale(0.20678)" stroke="#0c0c0c" stroke-width="8.05" stroke-linejoin="round" stroke-linecap="round">
<g transform="rotate(14 140 355)">
<ellipse cx="118" cy="362" rx="72" ry="120" fill="#5a5a5a"/>
<rect x="118" y="236" width="22" height="240" fill="#5a5a5a" stroke="none"/>
<path d="M118,242 L140,235 M118,482 L140,475" fill="none"/>
<ellipse cx="140" cy="355" rx="72" ry="120" fill="#505050"/>
<ellipse cx="140" cy="357" rx="40" ry="76" fill="#3a3a3a" stroke-width="9.2"/>
<clipPath id="s2c"><ellipse cx="140" cy="357" rx="37" ry="73"/></clipPath>
<g clip-path="url(#s2c)"><ellipse cx="112" cy="368" rx="38" ry="70" fill="#cae9f1" stroke-width="8.05"/>
<ellipse cx="108" cy="385" rx="30" ry="50" fill="#a8d4e6" stroke="none"/></g>
</g>
<!-- washer -->
<g transform="rotate(-20 232 152)">
<ellipse cx="228" cy="153" rx="33" ry="54" fill="#3c3c3c"/>
<ellipse cx="234" cy="151" rx="31" ry="52" fill="#5e5e5e" stroke-width="6.9"/>
<ellipse cx="232" cy="152" rx="11" ry="21" fill="#d0d0d0" stroke-width="8.05"/>
</g>
<!-- bolt 3 -->
<g transform="rotate(-18 390 100)">
<rect x="325" y="78" width="75" height="58" rx="8" fill="#3a3a3a"/>
<path d="M345,80 L345,134 M358,80 L358,134 M371,80 L371,134 M384,80 L384,134" stroke="#777" stroke-width="5" fill="none"/>
<ellipse cx="328" cy="107" rx="13" ry="28" fill="#555"/>
<ellipse cx="404" cy="100" rx="14" ry="44" fill="#4a4a4a"/>
<path d="M412,62 L455,66 L462,100 L455,134 L412,138 Z" fill="#555"/>
<path d="M432,64 L432,136" stroke-width="5.75" fill="none"/>
<path d="M440,80 L452,82 L452,112 L440,114 Z" fill="#888" stroke-width="4.6"/>
</g>
</g>
<!-- clip 5 -->
<path d="M391.500,52.500 L383,43.500 Q379.500,40.500 377.500,43.500 Q376,47.500 380,49 Q384,49.500 385.500,46" fill="none" stroke="#111" stroke-width="2.99" stroke-linecap="round"/>
<path d="M391.500,52.500 L383,43.500 Q379.500,40.500 377.500,43.500 Q376,47.500 380,49 Q384,49.500 385.500,46" fill="none" stroke="#c8c8c8" stroke-width="0.900" stroke-linecap="round"/>
<!-- washer 6 -->
<ellipse cx="384.200" cy="61.800" rx="9.200" ry="6.600" fill="#5a5a5a" stroke="#0c0c0c" stroke-width="2.07"/>
<ellipse cx="384.200" cy="61.800" rx="5.400" ry="3.600" fill="#8a8a8a" stroke="#0c0c0c" stroke-width="1.265"/>
<ellipse cx="384.500" cy="62" rx="2.600" ry="1.800" fill="#e8e8e8"/>
<!-- shaft 7 origin (350,60) scale 1/5 -->
<g transform="translate(350 60) scale(0.2)" stroke="#0c0c0c" stroke-width="8.05" stroke-linejoin="round" stroke-linecap="round">
<path d="M153,140 L153,62 Q156,56 165,62 L187,82 L188,140 Z" fill="#111"/>
<path d="M153,140 L188,140 L190,296 L156,312 Z" fill="#7c7c7c"/>
<path d="M172,150 L173,290" stroke="#b8b8b8" stroke-width="6" fill="none"/>
<path d="M156,312 L190,296 L262,320 L246,358 L176,338 Z" fill="#555"/>
<path d="M196,315 L240,328" stroke="#aaa" stroke-width="5" fill="none"/>
<path d="M240,362 L256,334 L278,330 L316,360 L292,406 L250,390 Z" fill="#4a4a4a"/>
<path d="M262,352 L298,366 L286,392 L256,380 Z" fill="#8a8a8a" stroke-width="4.6"/>
</g>
<!-- sensor 4 origin (560,170) scale 1/5 -->
<g transform="translate(560 170) scale(0.2)" stroke="#0c0c0c" stroke-width="8.05" stroke-linejoin="round" stroke-linecap="round">
<path d="M272,112 L292,92 L318,88 L334,100 L332,118 L312,126 L300,140 L282,138 Z" fill="#1e1e1e"/>
<ellipse cx="312" cy="103" rx="10" ry="7" fill="#4a4a4a" stroke="none"/>
<path d="M192,160 Q200,138 220,138 Q240,145 246,170 L248,188 L272,202 L272,252 Q262,268 245,268 L210,252 Q192,240 190,215 Z" fill="#5c5c5c"/>
<path d="M248,192 L272,202 L272,252 Q262,266 248,266 Z" fill="#858585" stroke-width="5.75"/>
<path d="M198,200 L246,222" stroke="#8a8a8a" stroke-width="5" fill="none"/>
<ellipse cx="214" cy="165" rx="7" ry="9" fill="#222" stroke="none"/>
<path d="M236,268 Q232,320 238,360 Q225,400 228,440 L240,488" fill="none" stroke-width="12.65"/>
<path d="M244,300 Q250,350 262,390 L270,440 L278,478" fill="none" stroke-width="12.65"/>
<path d="M230,395 L240,480" stroke="#0c0c0c" stroke-width="23" fill="none"/>
<path d="M233,405 L240,470" stroke="#dcdcdc" stroke-width="5" fill="none"/>
<path d="M266,410 L277,472" stroke="#0c0c0c" stroke-width="20.7" fill="none"/>
<path d="M268,420 L275,462" stroke="#8a8a8a" stroke-width="5" fill="none"/>
</g>
<!-- coil 10 + bolts: origin (0,370) scale 1/4.8333 -->
<g transform="translate(0 370) scale(0.2069)" stroke="#0c0c0c" stroke-width="8.05" stroke-linejoin="round" stroke-linecap="round">
<!-- bolt A -->
<g transform="translate(228 92) rotate(28)">
<rect x="10" y="-17" width="68" height="34" rx="6" fill="#2c2c2c"/>
<path d="M28,-15 L28,15 M40,-15 L40,15 M52,-15 L52,15 M64,-15 L64,15" stroke="#8a8a8a" stroke-width="5" fill="none"/>
<ellipse cx="8" cy="0" rx="16" ry="40" fill="#4a4a4a"/>
<path d="M-34,-22 L-12,-34 L2,-20 L2,22 L-12,34 L-34,22 Z" fill="#555"/>
<path d="M-26,-12 L-12,-18 L-12,16 L-26,10 Z" fill="#8a8a8a" stroke-width="4.6"/>
</g>
<!-- bolt B -->
<g transform="translate(92 228) rotate(28)">
<rect x="10" y="-17" width="68" height="34" rx="6" fill="#2c2c2c"/>
<path d="M28,-15 L28,15 M40,-15 L40,15 M52,-15 L52,15 M64,-15 L64,15" stroke="#8a8a8a" stroke-width="5" fill="none"/>
<ellipse cx="8" cy="0" rx="16" ry="40" fill="#4a4a4a"/>
<path d="M-34,-22 L-12,-34 L2,-20 L2,22 L-12,34 L-34,22 Z" fill="#555"/>
<path d="M-26,-12 L-12,-18 L-12,16 L-26,10 Z" fill="#8a8a8a" stroke-width="4.6"/>
</g>
<!-- wire to plug -->
<path d="M505,205 Q560,150 600,70 Q618,30 630,5" fill="none" stroke="#0c0c0c" stroke-width="29.9"/>
<path d="M505,205 Q560,150 600,70 Q618,30 630,5" fill="none" stroke="#4e4e4e" stroke-width="14.95"/>
<!-- coil ear -->
<path d="M325,285 L272,300 Q235,340 238,385 Q250,430 292,452 L328,456 Z" fill="#8c8c8c"/>
<ellipse cx="290" cy="362" rx="17" ry="22" fill="#2a2a2a" stroke="#c8c8c8" stroke-width="5"/>
<path d="M322,300 L280,312 Q252,345 254,385 Q264,420 296,438 L322,442" fill="none" stroke="#4c4c4c" stroke-width="13.8"/>
<!-- coil block -->
<path d="M322,245 L355,216 L430,218 Q458,235 462,262 L466,438 Q455,470 430,476 L345,482 Q322,470 322,450 Z" fill="#5a5a5a"/>
<path d="M325,243 L356,216 L430,219 Q455,235 452,262 Q440,310 386,330 L384,255 Z" fill="#8a8a8a" stroke-width="6.9"/>
<path d="M345,232 L385,228" stroke="#222" stroke-width="6.9" fill="none"/>
<path d="M325,290 L325,450" stroke="#333" stroke-width="5.75" fill="none"/>
<!-- connector arm -->
<path d="M432,218 L440,205 L462,200 L470,212 L505,196 L532,222 L524,250 L482,268 L494,308 L468,330 L458,262 Q452,235 432,218 Z" fill="#7c7c7c"/>
<path d="M470,240 L515,222" stroke="#c8c8c8" stroke-width="5" fill="none"/>
<path d="M462,262 L486,300" stroke="#0c0c0c" stroke-width="6.9" fill="none"/>
</g>
<!-- plug, wire, grommet: origin (110,300) scale 1/4 -->
<g transform="translate(110 300) scale(0.25)" stroke="#0c0c0c" stroke-width="8.05" stroke-linejoin="round" stroke-linecap="round">
<!-- wire from coil, upper part -->
<path d="M80,300 L92,220" fill="none" stroke="#0c0c0c" stroke-width="11.5"/>
<path d="M84,290 L94,225" fill="none" stroke="#ddd" stroke-width="4"/>
<!-- plug cap -->
<path d="M58,178 Q62,150 85,145 L108,140 L118,165 L128,178 L152,160 L178,158 L196,176 L196,200 L152,216 L136,232 L146,280 L122,290 L102,284 L100,250 Q80,215 58,178 Z" fill="#555"/>
<path d="M58,180 Q80,215 98,250 L100,290 L78,296 Q52,240 58,180 Z" fill="#8c8c8c" stroke-width="6.9"/>
<path d="M128,180 L136,230" stroke-width="5.75" fill="none"/>
<path d="M152,162 L152,214" stroke-width="5.75" fill="none"/>
<path d="M90,212 L80,300" fill="none" stroke="#0c0c0c" stroke-width="16.1"/>
<path d="M90,214 L81,298" fill="none" stroke="#d8d8d8" stroke-width="6"/>
<!-- ring terminal -->
<ellipse cx="216" cy="181" rx="19" ry="33" transform="rotate(-18 216 181)" fill="#cae9f1" stroke-width="10.35"/>
<path d="M196,185 L214,182" stroke-width="8.05" fill="none"/>
<!-- lead wire -->
<path d="M236,198 Q290,215 350,216 Q400,225 440,256 Q470,275 496,272" fill="none" stroke-width="12.65"/>
<!-- terminal end -->
<path d="M492,256 L520,250 L556,252 Q575,260 574,272 Q572,288 556,292 L520,294 L494,290 Z" fill="#3c3c3c"/>
<path d="M520,252 L520,292 M540,252 L540,292" stroke-width="4.6" fill="none"/>
<ellipse cx="563" cy="272" rx="8" ry="13" fill="#d8d8d8" stroke-width="4.6"/>
<!-- grommet -->
<g transform="rotate(-12 282 125)">
<path d="M240,90 L262,70 L300,68 L324,90 L330,135 L316,170 L286,182 L254,168 L238,135 Z" fill="#3c3c3c"/>
<ellipse cx="272" cy="125" rx="34" ry="48" fill="#5a5a5a" stroke-width="6.9"/>
<ellipse cx="268" cy="126" rx="20" ry="30" fill="#3a3a3a" stroke-width="6.9"/>
<ellipse cx="266" cy="127" rx="9" ry="14" fill="#8a8a8a" stroke-width="5.75"/>
</g>
</g>
<!-- gear assembly left parts: origin (105,55) scale 1/7 -->
<g transform="translate(105 55) scale(0.142857)" stroke="#0c0c0c" stroke-width="10.35" stroke-linejoin="round" stroke-linecap="round">
<!-- sleeve -->
<path d="M76,96 Q78,70 102,62 L205,108 L178,165 L92,128 Z" fill="#595959"/>
<path d="M110,150 L118,168" stroke-width="8.05" fill="none"/>
<ellipse cx="214" cy="156" rx="34" ry="60" transform="rotate(24 214 156)" fill="#1a1a1a"/>
<ellipse cx="214" cy="158" rx="15" ry="27" transform="rotate(24 214 158)" fill="#333" stroke="#d0d0d0" stroke-width="6"/>
<!-- washer 1 -->
<ellipse cx="304" cy="215" rx="37" ry="63" transform="rotate(24 304 215)" fill="#2a2a2a"/>
<ellipse cx="304" cy="215" rx="22" ry="40" transform="rotate(24 304 215)" fill="#a0a0a0" stroke-width="5.75"/>
<path d="M296,205 L314,212 L300,235 Z" fill="#222" stroke="none"/>
<!-- small ring -->
<ellipse cx="382" cy="270" rx="15" ry="27" transform="rotate(24 382 270)" fill="#fbd8dc" stroke-width="10.35"/>
</g>
<!-- slider + governor arm: origin (160,70) scale 1/7 -->
<g transform="translate(160 70) scale(0.142857)" stroke="#0c0c0c" stroke-width="10.35" stroke-linejoin="round" stroke-linecap="round">
<path d="M40,200 L100,195 L112,230 L100,262 L130,290 L126,318 L156,325 L132,376 L96,372 L60,346 L20,320 L18,252 Z" fill="#1c1c1c"/>
<path d="M26,252 L60,264 L58,302 L24,292 Z" fill="#a0a0a0" stroke="none"/>
<path d="M66,218 L98,216 L96,250 L68,248 Z" fill="#606060" stroke="none"/>
<path d="M70,300 L110,312 L104,340 L72,330 Z" fill="#b0b0b0" stroke="none"/>
<path d="M118,336 L138,340 L128,362 L112,356 Z" fill="#c0c0c0" stroke="none"/>
<!-- governor arm -->
<path d="M130,55 L156,44 L216,86 L266,100 L270,136 L236,150 L216,140 L192,166 L206,196 L172,216 L136,196 L140,160 L166,140 L170,106 L130,76 Z" fill="#111"/>
<path d="M150,168 L174,172 L170,190 L150,186 Z" fill="#c8c8c8" stroke="none"/>
<path d="M214,112 L236,114 L234,128 L214,126 Z" fill="#8a8a8a" stroke="none"/>
<path d="M196,160 L250,185 L290,225" fill="none" stroke-width="25.3"/>
</g>
<!-- gear: real coords -->
<g stroke="#0c0c0c" stroke-linejoin="round" stroke-linecap="butt">
<g transform="translate(3 1.500) rotate(30.700 205 120)">
<ellipse cx="199.500" cy="120" rx="11.500" ry="28.500" fill="#111" stroke="#0c0c0c" stroke-width="5.75" stroke-dasharray="2.500 2.300"/>
<ellipse cx="202.500" cy="120" rx="11.500" ry="28.500" fill="#111" stroke="#0c0c0c" stroke-width="5.75" stroke-dasharray="2.500 2.300"/>
<ellipse cx="205" cy="120" rx="10.500" ry="26.500" fill="#141414" stroke-width="1.15"/>
<ellipse cx="206" cy="120" rx="8.600" ry="20.500" fill="#707070" stroke-width="1.38"/>
<ellipse cx="208.500" cy="121" rx="4.400" ry="11.500" fill="#151515" stroke-width="1.15"/>
<path d="M206,112 L210.500,107.500 L214,112" fill="none" stroke="#8a8a8a" stroke-width="1.500"/>
<!-- hub -->
<path d="M210,112.500 L225,114.500 L228.500,120 L225,126.500 L210,128.500 Z" fill="#585858" stroke-width="1.61"/>
<rect x="223.500" y="116.500" width="6.500" height="8" fill="#b0b0b0" stroke-width="1.15"/>
<path d="M211,130 L219,130 L219,135 L211,135 Z" fill="#8a8a8a" stroke="none"/>
<path d="M209,105 L215,105 L215,109.500 L209,109.500 Z" fill="#7a7a7a" stroke="none"/>
</g>
</g>
<!-- washer 2 + pin: origin (180,100) scale 1/6.087 -->
<g transform="translate(180 100) scale(0.164285)" stroke="#0c0c0c" stroke-width="10.35" stroke-linejoin="round" stroke-linecap="round">
<ellipse cx="361" cy="250" rx="32" ry="55" transform="rotate(22 361 250)" fill="#9a9a9a"/>
<ellipse cx="361" cy="250" rx="26" ry="47" transform="rotate(22 361 250)" fill="#d4d4d4" stroke-width="4.6"/>
<ellipse cx="361" cy="251" rx="10" ry="19" transform="rotate(22 361 251)" fill="#fbd8dc" stroke-width="8.05"/>
<path d="M412,292 Q416,274 434,272 L640,405 Q642,428 622,436 Z" fill="#6a6a6a"/>
<path d="M420,290 L630,425" stroke="#a8a8a8" stroke-width="6" fill="none"/>
<path d="M506,320 L494,352" stroke-width="9.2" fill="none"/>
</g>
<!-- drain bolt + washer: origin (260,470) scale 1/8.575 -->
<g transform="translate(260 470) scale(0.116618)" stroke="#0c0c0c" stroke-width="12.65" stroke-linejoin="round" stroke-linecap="round">
<g transform="rotate(-10 425 245)">
<ellipse cx="418" cy="247" rx="60" ry="103" fill="#2a2a2a"/>
<ellipse cx="430" cy="245" rx="56" ry="98" fill="#3c3c3c" stroke-width="9.2"/>
<ellipse cx="428" cy="246" rx="36" ry="70" fill="#8a8a8a" stroke-width="10.35"/>
<ellipse cx="426" cy="247" rx="17" ry="46" fill="#d8d8d8" stroke-width="10.35"/>
</g>
<g transform="translate(190 325) rotate(-22)">
<rect x="10" y="-46" width="118" height="92" rx="10" fill="#2a2a2a"/>
<path d="M40,-44 L40,44 M62,-44 L62,44 M84,-44 L84,44 M106,-44 L106,44" stroke="#777" stroke-width="8" fill="none"/>
<path d="M128,-6 L150,-6" stroke-width="9.2" fill="none"/>
<ellipse cx="4" cy="0" rx="24" ry="76" fill="#3a3a3a"/>
<path d="M-20,-58 L-90,-50 L-128,-22 L-130,30 L-96,56 L-20,60 Z" fill="#444"/>
<path d="M-90,-50 L-92,56" stroke-width="8.05" fill="none"/>
<path d="M-74,-26 L-36,-28 L-36,24 L-74,26 Z" fill="#9a9a9a" stroke-width="5.75"/>
<path d="M-118,-14 L-102,-18 L-102,24 L-118,20 Z" fill="#ccc" stroke-width="5.75"/>
</g>
</g>

</svg>
</body></html>
